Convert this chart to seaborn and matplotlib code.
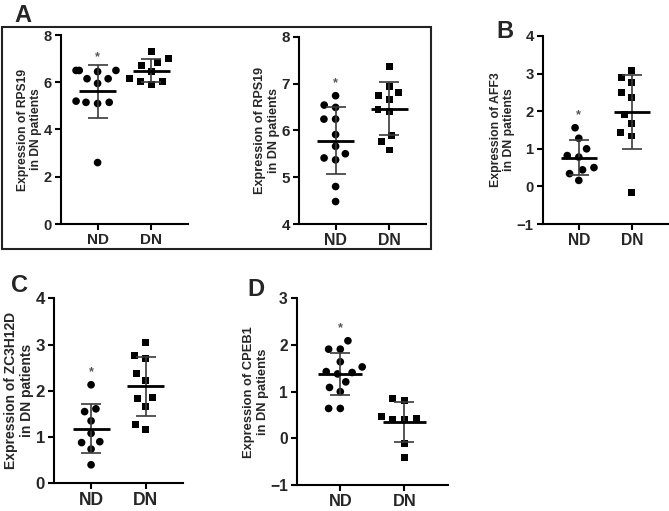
import numpy as np
import pandas as pd
import matplotlib
matplotlib.use('Agg')
import matplotlib.pyplot as plt
from matplotlib.patches import Rectangle
import seaborn as sns

sns.set_style('ticks')
plt.rcParams['font.family'] = ['Liberation Sans', 'DejaVu Sans']
plt.rcParams['font.weight'] = 'bold'
plt.rcParams['axes.labelweight'] = 'bold'

groups = ['ND', 'DN']

# values
rps19_1_nd = [6.5, 6.5, 6.45, 6.5, 6.15, 5.95, 6.15, 5.15, 5.15, 5.1, 5.2, 2.6]
rps19_1_dn = [7.3, 7.0, 6.85, 6.7, 6.45, 6.15, 5.9, 6.05, 6.05]
rps19_2_nd = [6.74, 6.49, 6.54, 6.24, 6.24, 5.91, 5.66, 5.41, 5.5, 5.37, 4.8, 4.48]
rps19_2_dn = [7.36, 6.93, 6.75, 6.8, 6.66, 6.45, 6.4, 5.88, 5.76, 5.58]
aff3_nd = [1.56, 1.28, 1.0, 0.78, 0.82, 0.5, 0.44, 0.34, 0.16]
aff3_dn = [3.08, 2.9, 2.77, 2.49, 2.37, 1.9, 1.68, 1.43, 1.34, -0.17]
zc3h12d_nd = [2.13, 1.61, 1.55, 1.35, 1.08, 0.9, 0.88, 0.74, 0.4]
zc3h12d_dn = [3.04, 2.77, 2.7, 2.38, 2.23, 1.86, 1.84, 1.67, 1.28, 1.17]
cpeb1_nd = [2.09, 1.91, 1.91, 1.64, 1.53, 1.43, 1.38, 1.41, 1.21, 1.09, 1.0, 0.64, 0.64]
cpeb1_dn = [0.85, 0.82, 0.47, 0.4, 0.4, 0.42, -0.12, -0.42]


def draw(ax, nd, dn, gene, yticks, k=1.0):
    # k scales the text, the panels were pasted at slightly different sizes
    df = pd.DataFrame({'group': ['ND'] * len(nd) + ['DN'] * len(dn), 'value': nd + dn})
    # invisible thick edge widens the swarm spacing like the Prism layout
    sns.swarmplot(data=df[df.group == 'ND'], x='group', y='value', order=groups,
                  marker='o', color='black', size=5.5, linewidth=2.5, edgecolor='none', ax=ax)
    sns.swarmplot(data=df[df.group == 'DN'], x='group', y='value', order=groups,
                  marker='s', color='black', size=5, linewidth=3, edgecolor='none', ax=ax)
    stats = df.groupby('group')['value'].agg(['mean', 'std']).reindex(groups)
    xs = np.arange(len(groups))
    ax.errorbar(xs, stats['mean'], yerr=stats['std'], fmt='none', ecolor='#3a3a3a',
                elinewidth=1.2, capsize=7, capthick=1.2, zorder=4)
    ax.hlines(stats['mean'], xs - 0.34, xs + 0.34, color='black', lw=2, zorder=5)
    ax.annotate('*', (0, max(nd)), xytext=(0, 5), textcoords='offset points',
                ha='center', va='bottom', fontsize=9, color='#555555')
    ax.set_xlim(-0.68, 1.68)
    ax.set_ylim(yticks[0], yticks[-1])
    ax.set_yticks(yticks)
    ax.set_xlabel('')
    ax.set_ylabel('Expression of %s\nin DN patients' % gene, fontsize=8.7 * k, labelpad=1)
    sns.despine(ax=ax)
    for s in ['left', 'bottom']:
        ax.spines[s].set_linewidth(1.5)
        ax.spines[s].set_color('black')
    ax.tick_params(length=4, width=1.5, color='black', pad=2.5)
    ax.tick_params(axis='y', labelsize=10.5 * k)
    ax.tick_params(axis='x', labelsize=11 * k)


W, H = 669, 511
fig = plt.figure(figsize=(W / 100, H / 100), dpi=100)


def rect(x0, ytop, x1, ybot):
    return [x0 / W, 1 - ybot / H, (x1 - x0) / W, (ybot - ytop) / H]


ax1 = fig.add_axes(rect(61, 35, 188, 224))
draw(ax1, rps19_1_nd, rps19_1_dn, 'RPS19', [0, 2, 4, 6, 8])
ax2 = fig.add_axes(rect(299, 36.7, 426, 224))
draw(ax2, rps19_2_nd, rps19_2_dn, 'RPS19', [4, 5, 6, 7, 8], 1.04)
ax3 = fig.add_axes(rect(542.7, 36, 668, 224))
draw(ax3, aff3_nd, aff3_dn, 'AFF3', [-1, 0, 1, 2, 3, 4], 1.02)
ax4 = fig.add_axes(rect(54, 298.3, 182.7, 483.3))
draw(ax4, zc3h12d_nd, zc3h12d_dn, 'ZC3H12D', [0, 1, 2, 3, 4], 1.15)
ax5 = fig.add_axes(rect(296.7, 298.3, 448, 485))
draw(ax5, cpeb1_nd, cpeb1_dn, 'CPEB1', [-1, 0, 1, 2, 3], 1.07)

fig.patches.append(Rectangle((2 / W, 1 - 249 / H), 429 / W, 222 / H, transform=fig.transFigure,
                             fill=False, lw=1.5, edgecolor='#222222'))

for lab, x, y in [('A', 23, 15), ('B', 505, 31), ('C', 20, 286), ('D', 256, 290)]:
    fig.text(x / W, 1 - y / H, lab, fontsize=17, fontweight='bold', ha='center', va='center')

fig.savefig('out.png', dpi=100)
